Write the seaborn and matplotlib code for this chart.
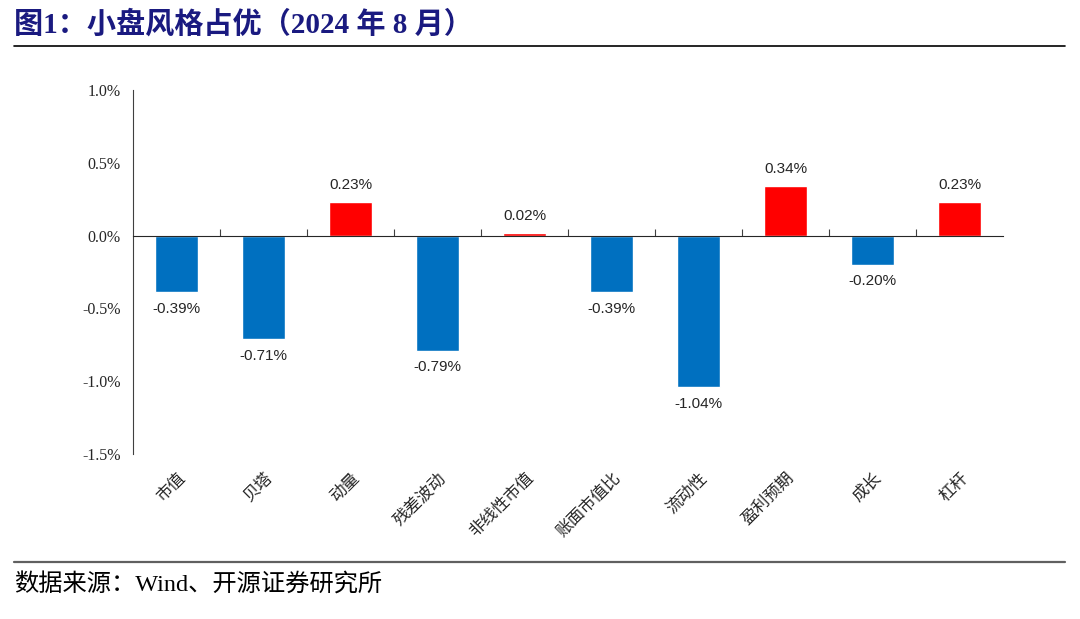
import matplotlib
matplotlib.use("Agg")
import matplotlib.pyplot as plt
import numpy as np
import seaborn as sns
import pandas as pd

# Données
categories = ["市值", "贝塔", "动量", "残差波动", "非线性市值", "账面市值比",
              "流动性", "盈利预期", "成长", "杠杆"]
values = [-0.39, -0.71, 0.23, -0.79, 0.02, -0.39, -1.04, 0.34, -0.20, 0.23]
y_ticks = [-1.5, -1.0, -0.5, 0.0, 0.5, 1.0]

title = "图1：小盘风格占优（2024 年 8 月）"
source = "数据来源：Wind、开源证券研究所"

sns.set_style("white")
plt.rcParams["font.family"] = ["Noto Sans CJK SC", "DejaVu Sans"]

df = pd.DataFrame({"cat": categories, "val": values})
df["sign"] = np.where(df["val"] >= 0, "pos", "neg")

fig = plt.figure(figsize=(10.8, 6.19), dpi=100)
ax = fig.add_axes([133 / 1080, 1 - 454 / 619, 870 / 1080, 364 / 619])

sns.barplot(data=df, x="cat", y="val", hue="sign",
            palette={"pos": "#FF0000", "neg": "#0070C0"},
            width=0.5, legend=False, ax=ax, saturation=1)

ax.set_ylim(-1.5, 1.0)
ax.set_xlim(-0.5, len(categories) - 0.5)
ax.set_yticks(y_ticks)
ax.set_yticklabels([f"{t:.1f}%" for t in y_ticks],
                   family=["Liberation Serif", "DejaVu Serif"], fontsize=11.5,
                   color="#262626")
ax.tick_params(axis="y", direction="out", length=4, width=0.8, color="#404040", pad=5)
ax.set_xlabel("")
ax.set_ylabel("")

# Étiquettes catégorielles en bas
ax.set_xticks(range(len(categories)))
ax.set_xticklabels(categories, rotation=45, ha="right", va="top",
                   rotation_mode="anchor", fontsize=12)
ax.tick_params(axis="x", length=0, pad=11)

for s in ["top", "right", "bottom"]:
    ax.spines[s].set_visible(False)
ax.spines["left"].set_color("#404040")
ax.spines["left"].set_linewidth(0.8)

# Ligne zéro avec graduations entre catégories
zero_frac = (0 - (-1.5)) / 2.5
sec = ax.secondary_xaxis(zero_frac)
sec.set_zorder(5)
sec.set_xticks(np.arange(0.5, len(categories) - 0.5, 1.0))
sec.set_xticklabels([])
sec.tick_params(direction="out", length=5, width=0.8, color="#404040")
sec.spines["bottom"].set_color("#404040")
sec.spines["bottom"].set_linewidth(0.8)

# Valeurs sur les barres
for i, v in enumerate(values):
    if v >= 0:
        ax.annotate(f"{v:.2f}%", (i, v), xytext=(0, 7), textcoords="offset points",
                    ha="center", va="bottom", fontsize=11, color="#262626",
                    family=["Liberation Sans", "DejaVu Sans"])
    else:
        ax.annotate(f"{v:.2f}%", (i, v), xytext=(0, -7), textcoords="offset points",
                    ha="center", va="top", fontsize=11, color="#262626",
                    family=["Liberation Sans", "DejaVu Sans"])

# Titre et source
fig.text(14 / 1080, 1 - 24 / 619, title, ha="left", va="center",
         fontsize=21, fontweight="bold", color="#1A1A80",
         family=["Liberation Serif", "Noto Sans CJK SC"])
fig.add_artist(plt.Line2D([14 / 1080, 1065 / 1080], [1 - 46 / 619, 1 - 46 / 619],
                          color="black", linewidth=1.2))
fig.add_artist(plt.Line2D([14 / 1080, 1065 / 1080], [1 - 562 / 619, 1 - 562 / 619],
                          color="#606060", linewidth=1.6))
fig.text(14 / 1080, 1 - 585 / 619, source, ha="left", va="center",
         fontsize=17.5, color="black",
         family=["Liberation Serif", "Noto Sans CJK SC"])

fig.savefig("out.png", dpi=100)
